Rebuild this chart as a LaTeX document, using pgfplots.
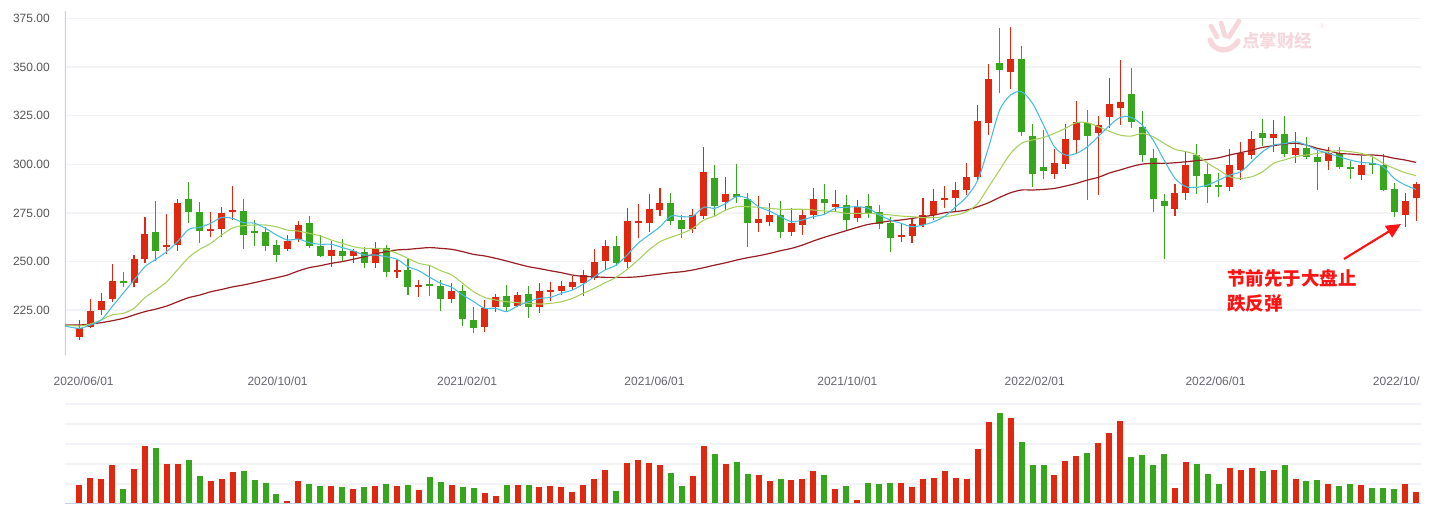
\documentclass[border=0pt]{standalone}
\usepackage{fontspec}
\setmainfont{Liberation Sans}
\newfontfamily\cjk{Noto Sans CJK SC}
\usepackage{pgfplots}
\usepackage{pgfplotstable}
\pgfplotsset{compat=1.18}
\usetikzlibrary{arrows.meta}

\definecolor{cRed}{RGB}{222,40,16}
\definecolor{cGreen}{RGB}{54,166,28}
\definecolor{maBlue}{RGB}{72,188,222}
\definecolor{maGreen}{RGB}{168,206,92}
\definecolor{maDark}{RGB}{152,30,34}
\definecolor{gridc}{RGB}{242,243,247}
\definecolor{axisc}{RGB}{198,208,228}
\definecolor{tickc}{RGB}{85,85,85}
\definecolor{datec}{RGB}{100,100,110}
\definecolor{wm}{RGB}{246,216,220}
\definecolor{note}{RGB}{250,20,20}

\pgfplotstableread{
i O H L C
0 211.4 220.0 209.7 215.7
1 216.6 230.8 215.7 224.6
2 225.1 233.7 222.6 229.7
3 230.8 248.8 229.4 240.0
5 239.2 253.4 237.1 251.3
6 251.2 272.9 249.1 264.2
8 257.3 274.5 253.9 258.5
9 258.7 282.2 255.6 280.1
12 266.0 275.5 262.8 266.8
13 266.9 278.0 262.6 275.0
14 275.5 288.8 271.4 276.5
19 256.6 263.7 255.6 260.6
20 261.8 271.0 260.2 268.6
23 253.0 260.4 247.4 255.9
25 253.0 256.3 249.4 255.2
27 249.4 259.9 246.9 256.3
29 244.8 250.8 241.7 245.7
31 236.8 240.5 232.0 238.0
34 230.8 238.8 228.9 234.9
37 216.6 230.3 214.0 226.0
38 226.8 233.4 224.3 232.0
40 227.3 234.2 226.5 232.8
42 226.5 238.8 223.7 234.9
43 234.5 239.3 229.9 235.4
44 235.1 240.0 232.8 237.5
45 237.1 242.8 235.4 239.5
46 238.8 245.7 232.5 242.9
47 241.7 256.5 240.5 249.8
48 250.5 261.1 245.7 258.0
50 250.0 277.5 246.9 270.9
51 269.7 279.6 262.3 270.9
52 270.0 284.7 265.0 276.9
53 276.7 287.8 273.6 280.1
56 266.9 276.9 264.9 274.0
57 273.6 308.9 271.7 296.0
59 280.4 293.5 276.2 284.7
62 269.7 283.7 265.4 271.7
63 270.5 280.3 268.3 274.0
65 265.4 277.4 263.3 269.7
66 269.0 276.5 263.8 274.0
67 274.0 287.8 271.9 282.2
69 277.9 286.8 275.3 279.6
71 272.6 281.6 270.5 278.2
75 262.8 269.3 259.9 263.7
76 263.3 272.2 259.7 269.1
77 268.8 282.5 267.9 274.0
78 274.0 287.3 271.4 281.1
79 281.6 288.8 277.4 282.5
80 282.8 290.9 276.0 286.8
81 286.8 300.7 284.2 293.5
82 293.6 330.5 291.9 322.2
83 321.4 351.5 315.0 343.8
85 347.6 370.5 338.7 354.1
89 295.2 307.9 292.4 300.5
90 300.1 320.7 297.6 313.0
91 312.5 332.5 305.5 321.7
93 316.2 324.8 284.2 320.2
94 324.1 344.3 318.5 331.0
95 329.1 353.6 320.2 332.0
100 277.0 289.9 273.4 285.2
101 285.4 306.3 281.6 299.6
105 288.2 307.9 286.3 299.6
106 297.1 311.5 291.9 306.0
107 305.0 317.3 302.9 313.0
109 313.7 322.8 306.3 315.6
111 305.0 316.6 300.8 308.2
114 301.9 309.1 297.1 305.6
117 294.7 304.3 291.9 299.6
121 274.1 285.4 267.9 281.1
122 282.8 291.1 271.0 289.9
}\redc

\pgfplotstableread{
i O H L C
4 240.0 244.8 237.1 239.2
7 265.2 281.1 250.3 255.6
10 282.2 290.9 270.0 275.3
11 275.5 280.6 259.7 265.9
15 276.0 282.2 256.3 263.8
16 265.7 271.4 258.2 265.0
17 265.2 267.9 255.6 258.2
18 258.4 261.1 250.0 253.6
21 269.7 273.4 257.0 258.0
22 258.0 263.5 252.2 253.0
24 255.6 261.6 249.8 252.9
26 254.8 257.3 246.9 249.4
28 256.8 258.5 242.2 244.8
30 245.7 251.2 232.8 236.8
32 238.5 248.2 232.5 237.7
33 237.7 240.5 224.8 230.8
35 234.9 238.0 217.1 220.3
36 220.0 226.8 213.5 216.0
39 232.3 238.0 223.9 226.5
41 233.3 237.5 221.2 226.8
49 258.0 263.2 247.9 249.4
54 280.1 285.2 268.8 271.0
55 271.4 274.0 262.3 266.9
58 293.0 299.6 273.4 278.7
60 284.7 300.1 280.3 283.0
61 282.2 285.4 257.7 270.0
64 274.0 281.1 262.3 265.4
68 282.2 289.9 274.4 280.3
70 279.1 284.2 265.7 271.4
72 278.6 284.7 272.6 275.1
73 275.5 279.1 266.9 269.1
74 269.7 272.7 255.1 262.3
84 351.9 370.0 336.8 348.6
86 354.1 360.8 314.7 316.8
87 314.5 320.7 288.5 295.2
88 298.4 317.6 292.4 296.7
92 321.2 327.9 281.6 314.5
96 336.1 349.5 318.5 321.9
97 319.2 327.4 301.3 305.0
98 303.2 307.9 275.5 282.2
99 281.1 284.7 251.5 278.7
102 304.8 310.4 284.7 294.2
103 295.0 300.8 280.3 288.5
104 289.4 295.5 283.4 288.5
108 315.9 323.3 309.6 313.7
110 315.6 324.8 303.9 305.5
112 308.2 314.2 302.7 303.9
113 303.6 307.0 286.8 301.3
115 305.6 309.1 297.6 298.8
116 298.4 301.7 292.4 297.7
118 300.7 304.0 295.0 299.5
119 299.8 305.3 286.4 286.8
120 287.3 290.6 273.1 275.5
}\greenc

\pgfplotstableread{
i a b c
-1.3 216.9 217.4 217.4
0 215.7 216.9 217.4
1 217.4 217.9 217.9
2 220.0 220.0 218.6
3 226.8 222.6 219.6
4 233.7 223.4 220.8
5 240.5 226.0 222.6
6 247.4 231.5 224.3
7 251.2 235.4 225.6
8 255.2 239.7 227.2
9 260.4 246.0 229.4
10 266.6 252.2 231.5
11 267.6 256.3 232.8
12 269.7 259.4 234.5
13 272.7 263.7 235.7
14 272.2 267.3 237.0
15 270.0 268.5 238.0
16 269.7 268.8 239.2
17 267.1 268.8 240.5
18 263.7 267.9 241.7
19 261.1 266.2 243.1
20 261.6 265.7 245.2
21 259.7 264.5 246.9
22 258.9 263.2 247.9
23 258.9 261.1 249.1
24 257.2 259.4 250.0
25 255.6 257.7 251.2
26 253.4 256.8 252.5
27 253.4 256.8 253.9
28 252.5 256.3 255.1
29 251.2 254.2 256.0
30 247.4 251.7 256.3
31 245.3 249.1 256.8
32 241.9 247.9 257.2
33 238.8 245.3 256.8
34 236.8 243.1 256.3
35 232.8 238.8 255.1
36 229.4 234.5 253.7
37 226.0 231.6 252.9
38 226.0 230.3 251.7
39 224.3 229.4 250.3
40 227.2 228.9 248.8
41 229.4 228.5 247.4
42 231.1 228.2 246.4
43 231.6 228.5 245.3
44 233.7 229.4 244.3
45 235.4 231.1 243.1
46 238.4 233.7 242.4
47 242.2 236.3 242.2
48 245.7 239.2 241.9
49 248.2 241.9 241.9
50 253.4 246.0 241.9
51 259.4 250.8 242.2
52 263.7 256.0 242.9
53 267.9 260.2 243.6
54 273.4 262.5 244.3
55 273.1 264.5 244.8
56 273.4 267.1 245.7
57 277.9 271.4 246.9
58 277.4 273.4 248.2
59 279.9 276.5 249.4
60 283.4 278.2 250.8
61 282.5 278.2 252.0
62 278.2 277.9 253.0
63 276.0 277.4 254.2
64 273.1 276.9 255.6
65 270.5 276.9 256.8
66 271.4 276.9 258.5
67 273.1 276.5 260.6
68 274.3 276.0 262.5
69 277.4 275.7 264.2
70 277.9 274.8 265.9
71 278.2 274.8 267.6
72 277.4 274.8 269.1
73 274.0 274.4 270.0
74 271.4 274.0 270.9
75 269.7 273.4 271.4
76 267.9 273.1 272.2
77 268.8 272.6 273.1
78 270.5 272.6 273.9
79 273.4 273.1 275.1
80 278.2 274.0 275.7
81 283.4 275.7 276.5
82 291.9 279.9 278.2
83 309.0 288.5 280.3
84 327.9 297.1 283.0
85 335.6 305.6 285.4
86 337.3 310.8 286.8
87 331.3 312.5 286.8
88 320.2 313.8 287.1
89 309.0 315.9 287.6
90 304.8 318.5 288.8
91 305.6 321.4 290.2
92 309.0 321.4 291.9
93 314.2 319.3 293.3
94 319.8 317.0 295.5
95 324.1 315.0 297.1
96 324.1 314.5 298.8
97 320.2 315.9 300.1
98 312.5 314.2 300.5
99 302.2 310.8 300.5
100 292.8 307.7 300.8
101 288.5 306.5 301.3
102 288.2 304.8 301.9
103 289.4 300.5 302.5
104 291.9 297.1 303.4
105 294.5 293.6 304.8
106 296.2 292.8 306.0
107 301.3 293.6 307.3
108 306.5 296.2 308.7
109 309.9 300.5 309.6
110 310.6 302.3 310.4
111 311.6 303.9 310.8
112 309.9 304.8 309.9
113 307.3 305.6 308.2
114 305.6 306.5 307.0
115 303.9 307.0 305.6
116 302.2 306.5 305.3
117 301.0 305.6 304.8
118 300.5 303.9 304.8
119 298.8 300.5 304.3
120 292.8 297.9 303.1
121 289.4 295.7 302.2
122 287.1 294.2 301.0
}\matab

\pgfplotstableread{
i v
0 0.95
1 1.3
2 1.25
3 1.95
5 1.75
6 2.9
8 2.0
9 2.0
12 1.15
13 1.25
14 1.6
19 0.15
20 1.15
23 0.9
25 0.75
27 0.9
29 0.9
31 0.7
34 0.95
37 0.55
38 0.4
40 0.95
42 0.85
43 0.9
44 0.85
45 0.6
46 0.95
47 1.25
48 1.7
50 2.05
51 2.2
52 2.05
53 1.95
56 1.4
57 2.9
59 2.0
62 1.45
63 1.15
65 1.2
66 1.25
67 1.65
69 0.75
71 0.2
75 1.05
76 0.85
77 1.25
78 1.3
79 1.65
80 1.3
81 1.25
82 2.75
83 4.1
85 4.3
89 1.45
90 2.15
91 2.4
93 3.05
94 3.55
95 4.15
100 0.8
101 2.1
105 1.8
106 1.7
107 1.8
109 1.7
111 1.25
114 1.0
117 0.95
121 1.0
122 0.6
}\volr

\pgfplotstableread{
i v
4 0.75
7 2.8
10 2.2
11 1.4
15 1.65
16 1.2
17 1.05
18 0.5
21 1.0
22 0.9
24 0.85
26 0.85
28 1.0
30 0.95
32 1.35
33 1.1
35 0.85
36 0.8
39 0.95
41 0.95
49 0.65
54 1.55
55 0.9
58 2.5
60 2.1
61 1.5
64 1.25
68 1.45
70 0.9
72 1.05
73 1.0
74 1.05
84 4.55
86 3.1
87 1.95
88 1.95
92 2.55
96 2.35
97 2.45
98 1.95
99 2.5
102 2.0
103 1.5
104 1.0
108 1.65
110 1.95
112 1.15
113 1.2
115 0.9
116 1.0
118 0.8
119 0.8
120 0.75
}\volg

\pgfplotsset{candle/.style={only marks, mark=none, mark size=0pt,
  mark options={draw=none, fill=none}, forget plot}}

\begin{document}
\begin{tikzpicture}
% ---------------- price panel ----------------
\begin{axis}[
  at={(48.75pt,113.25pt)}, anchor=south west,
  scale only axis, width=1017pt, height=258pt,
  xmin=-1.3, xmax=122.45, ymin=202, ymax=378.8,
  axis line style={draw=none},
  major tick length=0pt,
  ytick={225,250,275,300,325,350,375},
  yticklabels={225.00,250.00,275.00,300.00,325.00,350.00,375.00},
  ymajorgrids, grid style={gridc, line width=1.2pt},
  xtick={0.4,18.1,35.4,52.5,70.1,87.2,103.7,120.2},
  xticklabels={2020/06/01,2020/10/01,2021/02/01,2021/06/01,2021/10/01,2022/02/01,2022/06/01,2022/10/},
  yticklabel style={anchor=east, inner sep=0pt, xshift=-11.25pt, font=\fontsize{9}{10}\selectfont, text=tickc},
  xticklabel style={anchor=center, inner sep=0pt, yshift=-19.3pt, font=\fontsize{9}{10}\selectfont, text=datec},
]
\draw[axisc, line width=0.8pt] (rel axis cs:0,0) -- (rel axis cs:0,1);
% wicks
\addplot[cRed, candle,
  error bars/.cd, y dir=both, y explicit, error mark=none,
  error bar style={line width=0.8pt, cRed}]
  table[x=i, y expr={(\thisrow{H}+\thisrow{L})/2}, y error expr={(\thisrow{H}-\thisrow{L})/2}] {\redc};
\addplot[cGreen, candle,
  error bars/.cd, y dir=both, y explicit, error mark=none,
  error bar style={line width=0.8pt, cGreen}]
  table[x=i, y expr={(\thisrow{H}+\thisrow{L})/2}, y error expr={(\thisrow{H}-\thisrow{L})/2}] {\greenc};
% bodies
\addplot[cRed, candle,
  error bars/.cd, y dir=both, y explicit, error mark=none,
  error bar style={line width=5.25pt, cRed}]
  table[x=i, y expr={(\thisrow{O}+\thisrow{C})/2}, y error expr={max(abs(\thisrow{C}-\thisrow{O})/2,0.45)}] {\redc};
\addplot[cGreen, candle,
  error bars/.cd, y dir=both, y explicit, error mark=none,
  error bar style={line width=5.25pt, cGreen}]
  table[x=i, y expr={(\thisrow{O}+\thisrow{C})/2}, y error expr={max(abs(\thisrow{C}-\thisrow{O})/2,0.45)}] {\greenc};
% moving averages
\addplot[maDark, line width=0.9pt, smooth, mark=none] table[x=i, y=c] {\matab};
\addplot[maGreen, line width=0.8pt, smooth, mark=none] table[x=i, y=b] {\matab};
\addplot[maBlue, line width=0.8pt, smooth, mark=none] table[x=i, y=a] {\matab};
\end{axis}

% ---------------- volume panel ----------------
\begin{axis}[
  at={(48.75pt,1.5pt)}, anchor=south west,
  scale only axis, width=1017pt, height=75pt,
  xmin=-1.3, xmax=122.45, ymin=0, ymax=5,
  axis line style={draw=none},
  major tick length=0pt,
  xtick=\empty, ytick={1,2,3,4,5}, yticklabels={},
  ymajorgrids, grid style={gridc, line width=1.2pt},
]
\addplot[ycomb, cRed, line width=4.5pt, mark=none] table[x=i, y=v] {\volr};
\addplot[ycomb, cGreen, line width=4.5pt, mark=none] table[x=i, y=v] {\volg};
\draw[axisc, line width=1pt] (rel axis cs:0,0) -- (rel axis cs:1,0);
\end{axis}

% ---------------- watermark and note ----------------
\begin{scope}[x=0.75pt, y=-0.75pt, shift={(0pt,379.5pt)}]
  \draw[wm, line width=3.6pt, line cap=round] (1211,26) -- (1217,37);
  \draw[wm, line width=3.6pt, line cap=round] (1221,23) -- (1225,36);
  \draw[wm, line width=3.6pt, line cap=round] (1239,21) -- (1229,37);
  \draw[wm, line width=4pt, line cap=round] (1210,40) .. controls (1214,52) and (1230,54) .. (1238,41);
  \node[anchor=west, inner sep=0pt, text=wm, font={\cjk\bfseries\fontsize{13.1}{14}\selectfont}] at (1242,41) {点掌财经};
  \node[anchor=center, inner sep=0pt, text=wm, font=\fontsize{5}{6}\selectfont] at (1322,26) {®};
  \node[anchor=west, inner sep=0pt, text=note, font={\cjk\bfseries\fontsize{13.9}{15}\selectfont}] at (1227,278) {节前先于大盘止};
  \node[anchor=west, inner sep=0pt, text=note, font={\cjk\bfseries\fontsize{13.9}{15}\selectfont}] at (1227,303) {跌反弹};
  \draw[note, line width=1.6pt, -{Triangle[length=11pt, width=10pt]}] (1344,259) -- (1401,224);
\end{scope}

\pgfresetboundingbox
\path[use as bounding box] (0,0) rectangle (1077pt,379.5pt);
\end{tikzpicture}
\end{document}
